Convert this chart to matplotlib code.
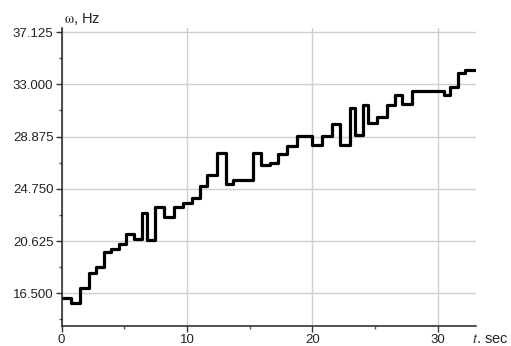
import numpy as np
import matplotlib.pyplot as plt
from matplotlib.ticker import MultipleLocator, FixedLocator

plt.rcParams['font.family'] = ['Liberation Sans', 'DejaVu Sans']
plt.rcParams['mathtext.fontset'] = 'stix'

# step start times (sec) and frequency levels (Hz)
t_steps = [0.0, 0.77, 1.5, 2.2, 2.77, 3.38, 3.96, 4.55, 5.16, 5.77,
           6.41, 6.83, 7.47, 8.16, 8.96, 9.68, 10.4, 11.0, 11.57, 12.37,
           13.11, 13.7, 15.24, 15.9, 16.62, 17.29, 18.0, 18.75, 19.95, 20.75,
           21.55, 22.2, 23.0, 23.4, 24.0, 24.47, 25.19, 25.93, 26.6, 27.13,
           27.93, 30.46, 31.0, 31.65, 32.19, 33.0]
omega = [16.1, 15.7, 16.94, 18.08, 18.6, 19.79, 19.98, 20.4, 21.16, 20.79,
         22.87, 20.71, 23.34, 22.55, 23.3, 23.65, 24.05, 24.95, 25.85, 27.56,
         25.1, 25.45, 27.56, 26.64, 26.82, 27.53, 28.14, 28.93, 28.22, 28.93,
         29.88, 28.2, 31.12, 29.0, 31.38, 29.93, 30.46, 31.38, 32.17, 31.43,
         32.49, 32.17, 32.83, 33.88, 34.14, 34.14]

y_ticks = [16.5, 20.625, 24.75, 28.875, 33.0, 37.125]
y_labels = ['16.500', '20.625', '24.750', '28.875', '33.000', '37.125']
x_ticks = [0, 10, 20, 30]

fig = plt.figure(figsize=(5.11, 3.46), dpi=100)
ax = fig.add_axes([0.1207, 0.0587, 0.8108, 0.8603])

ax.plot(t_steps, omega, drawstyle='steps-post', color='black', lw=2.3,
        solid_joinstyle='round', solid_capstyle='round')

ax.set_xlim(0, 33.05)
ax.set_ylim(13.94, 37.45)

ax.set_xticks(x_ticks)
ax.xaxis.set_minor_locator(MultipleLocator(5))
ax.set_yticks(y_ticks)
ax.set_yticklabels(y_labels)
ax.yaxis.set_minor_locator(FixedLocator([14.4375, 18.5625, 22.6875, 26.8125, 30.9375, 35.0625]))

ax.tick_params(which='major', direction='out', length=4, width=1, labelsize=9.5,
               pad=2, color='#333333', labelcolor='#222222')
ax.tick_params(which='minor', direction='out', length=2.5, width=1, color='#555555')

ax.grid(True, which='major', color='#cfcfcf', lw=1)
ax.set_axisbelow(True)

for s in ['top', 'right']:
    ax.spines[s].set_visible(False)
for s in ['left', 'bottom']:
    ax.spines[s].set_color('#222222')
    ax.spines[s].set_linewidth(1.1)

fig.text(0.125, 0.945, r'$\mathrm{\omega}$, Hz', fontsize=10.5, ha='left', va='center', color='#222222')
fig.text(0.995, 0.02, r'$t$. sec', fontsize=10.5, ha='right', va='center', color='#222222')

fig.savefig('out.png', dpi=100)
